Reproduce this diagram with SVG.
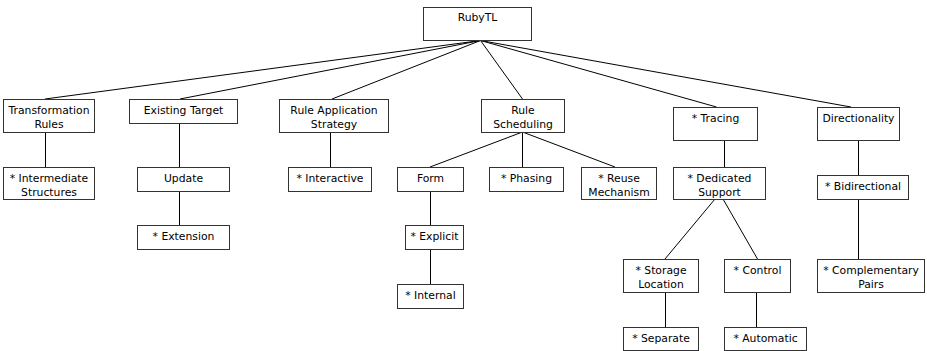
<svg xmlns="http://www.w3.org/2000/svg" width="927" height="351" viewBox="0 0 927 351">
<style>
rect{fill:#fff;stroke:#333;stroke-width:1}
text{font-family:"DejaVu Sans","Liberation Sans",sans-serif;font-size:10.8px;fill:#000;text-anchor:middle}
#connectors line{stroke:#000;stroke-width:1}
</style>
<rect x="0" y="0" width="927" height="351" style="stroke:none"/>
<g id="connectors">
<line x1="480.5" y1="40.5" x2="45" y2="99"/>
<line x1="480.5" y1="40.5" x2="180" y2="99"/>
<line x1="480.5" y1="40.5" x2="332" y2="99"/>
<line x1="480.5" y1="40.5" x2="522.5" y2="99"/>
<line x1="480.5" y1="40.5" x2="716.5" y2="107"/>
<line x1="480.5" y1="40.5" x2="851" y2="107"/>
<line x1="45.5" y1="132" x2="45.5" y2="167"/>
<line x1="179.5" y1="123" x2="179.5" y2="167"/>
<line x1="179.5" y1="191" x2="179.5" y2="225"/>
<line x1="330.5" y1="132" x2="330.5" y2="167"/>
<line x1="522.5" y1="132" x2="430" y2="167"/>
<line x1="522.5" y1="132" x2="522.5" y2="167"/>
<line x1="522.5" y1="132" x2="615" y2="167"/>
<line x1="430.5" y1="191" x2="430.5" y2="225"/>
<line x1="430.5" y1="249" x2="430.5" y2="284"/>
<line x1="724.5" y1="140" x2="724.5" y2="167"/>
<line x1="715" y1="199" x2="665" y2="259"/>
<line x1="723" y1="199" x2="757.5" y2="259"/>
<line x1="665.5" y1="292" x2="665.5" y2="327"/>
<line x1="756.5" y1="292" x2="756.5" y2="327"/>
<line x1="858.5" y1="140" x2="858.5" y2="175"/>
<line x1="858.5" y1="199" x2="858.5" y2="259"/>
</g>
<g id="n-root"><rect x="423.5" y="7.5" width="108" height="33"/><text x="477.5" y="21">RubyTL</text></g>
<g id="n-tr"><rect x="3.5" y="99.5" width="91" height="33"/><text x="49" y="113.5">Transformation</text><text x="49" y="127.5">Rules</text></g>
<g id="n-et"><rect x="129.5" y="99.5" width="108" height="24"/><text x="183.5" y="113.5">Existing Target</text></g>
<g id="n-ras"><rect x="279.5" y="99.5" width="109" height="33"/><text x="334" y="113.5">Rule Application</text><text x="334" y="127.5">Strategy</text></g>
<g id="n-rs"><rect x="481.5" y="99.5" width="83" height="33"/><text x="523" y="113.5">Rule</text><text x="523" y="127.5">Scheduling</text></g>
<g id="n-tracing"><rect x="673.5" y="107.5" width="84" height="33"/><text x="715.5" y="121.5">* Tracing</text></g>
<g id="n-dir"><rect x="817.5" y="107.5" width="82" height="33"/><text x="858.5" y="121.5">Directionality</text></g>
<g id="n-is"><rect x="3.5" y="167.5" width="91" height="32"/><text x="49" y="181.5">* Intermediate</text><text x="49" y="195.5">Structures</text></g>
<g id="n-upd"><rect x="137.5" y="167.5" width="92" height="24"/><text x="183.5" y="181.5">Update</text></g>
<g id="n-ext"><rect x="137.5" y="225.5" width="92" height="24"/><text x="183.5" y="239.5">* Extension</text></g>
<g id="n-inter"><rect x="288.5" y="167.5" width="83" height="24"/><text x="330" y="181.5">* Interactive</text></g>
<g id="n-form"><rect x="397.5" y="167.5" width="66" height="24"/><text x="430.5" y="181.5">Form</text></g>
<g id="n-expl"><rect x="405.5" y="225.5" width="58" height="24"/><text x="434.5" y="239.5">* Explicit</text></g>
<g id="n-intl"><rect x="397.5" y="284.5" width="66" height="24"/><text x="430.5" y="298.5">* Internal</text></g>
<g id="n-phas"><rect x="489.5" y="167.5" width="74" height="24"/><text x="526.5" y="181.5">* Phasing</text></g>
<g id="n-reuse"><rect x="581.5" y="167.5" width="75" height="32"/><text x="619" y="181.5">* Reuse</text><text x="619" y="195.5">Mechanism</text></g>
<g id="n-ded"><rect x="673.5" y="167.5" width="92" height="32"/><text x="719.5" y="181.5">* Dedicated</text><text x="719.5" y="195.5">Support</text></g>
<g id="n-bidi"><rect x="817.5" y="175.5" width="91" height="24"/><text x="863" y="189.5">* Bidirectional</text></g>
<g id="n-stor"><rect x="623.5" y="259.5" width="75" height="33"/><text x="661" y="273.5">* Storage</text><text x="661" y="287.5">Location</text></g>
<g id="n-ctrl"><rect x="724.5" y="259.5" width="66" height="33"/><text x="757.5" y="273.5">* Control</text></g>
<g id="n-comp"><rect x="817.5" y="259.5" width="107" height="33"/><text x="871" y="273.5">* Complementary</text><text x="871" y="287.5">Pairs</text></g>
<g id="n-sep"><rect x="623.5" y="327.5" width="75" height="23"/><text x="661" y="341.5">* Separate</text></g>
<g id="n-auto"><rect x="724.5" y="327.5" width="82" height="23"/><text x="765.5" y="341.5">* Automatic</text></g>
</svg>
